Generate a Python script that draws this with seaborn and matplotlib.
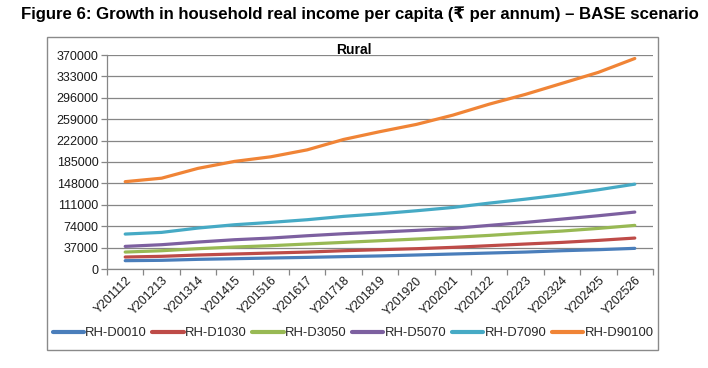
import matplotlib
matplotlib.use("Agg")
import matplotlib.pyplot as plt
import seaborn as sns
import pandas as pd
import numpy as np
from matplotlib.patches import Rectangle
from matplotlib.ticker import FixedLocator

sns.set_theme(style="white")
plt.rcParams['font.family'] = ['Liberation Sans', 'DejaVu Sans']

years = ["Y201112", "Y201213", "Y201314", "Y201415", "Y201516", "Y201617", "Y201718",
         "Y201819", "Y201920", "Y202021", "Y202122", "Y202223", "Y202324", "Y202425", "Y202526"]

rh_d0010 = [14400, 15000, 16700, 17800, 19000, 20100, 21400, 22600, 24200, 25900, 27600, 29300, 31600, 33400, 35700]
rh_d1030 = [20700, 21900, 24200, 25900, 27600, 29300, 31600, 33400, 35100, 37400, 40300, 43200, 46000, 49500, 53500]
rh_d3050 = [29300, 31600, 35100, 38000, 40300, 43200, 46000, 48900, 51800, 54700, 58100, 62100, 65600, 70200, 75400]
rh_d5070 = [39100, 42000, 46600, 50600, 53500, 57500, 61000, 63800, 66800, 70200, 75400, 80600, 86300, 92100, 98400]
rh_d7090 = [60400, 63300, 70800, 76500, 80600, 85200, 91000, 95500, 100700, 106400, 113900, 120800, 128300, 137000, 146700]
rh_d90100 = [151000, 157000, 174000, 186000, 194000, 206000, 224000, 237500, 250000, 266000, 285000, 302000, 321000, 340000, 364000]

series_names = ["RH-D0010", "RH-D1030", "RH-D3050", "RH-D5070", "RH-D7090", "RH-D90100"]
series_values = [rh_d0010, rh_d1030, rh_d3050, rh_d5070, rh_d7090, rh_d90100]
colors = ["#4A7EBB", "#BE4B48", "#98B954", "#7D60A0", "#46AAC5", "#F08436"]

yticks = [0, 37000, 74000, 111000, 148000, 185000, 222000, 259000, 296000, 333000, 370000]

rows = []
for name, vals in zip(series_names, series_values):
    for i, v in enumerate(vals):
        rows.append({"idx": i, "year": years[i], "series": name, "value": v})
df = pd.DataFrame(rows)

W, H = 708, 368
fig = plt.figure(figsize=(W / 100, H / 100), dpi=100)
ax = fig.add_axes([107 / W, 1 - 269 / H, (653 - 107) / W, (269 - 55) / H])

sns.lineplot(data=df, x="idx", y="value", hue="series", palette=colors,
             linewidth=2.3, ax=ax, legend=False, solid_capstyle="round")

grid_c = "#868686"
ax.set_xlim(-0.5, len(years) - 0.5)
ax.set_ylim(0, 370000)
ax.set_yticks(yticks)
ax.set_yticklabels([str(t) for t in yticks], fontsize=9, color="#1a1a1a")
ax.yaxis.grid(True, color=grid_c, linewidth=0.9)
ax.set_axisbelow(True)

ax.xaxis.set_major_locator(FixedLocator(np.arange(-0.5, len(years), 1.0)))
ax.set_xticklabels([])
ax.xaxis.set_minor_locator(FixedLocator(np.arange(len(years))))
ax.set_xticklabels(years, minor=True, rotation=45, ha="right", rotation_mode="anchor",
                   fontsize=8.8, color="#1a1a1a")
ax.tick_params(axis="x", which="major", direction="out", length=4, width=0.9, color=grid_c, bottom=True)
ax.tick_params(axis="x", which="minor", length=0, pad=4, bottom=True)
ax.tick_params(axis="y", direction="out", length=4, width=0.9, color=grid_c, left=True, pad=2)

for s in ["top", "right"]:
    ax.spines[s].set_visible(False)
for s in ["left", "bottom"]:
    ax.spines[s].set_color(grid_c)
    ax.spines[s].set_linewidth(0.9)
ax.set_xlabel("")
ax.set_ylabel("")

fig.text(354 / W, 1 - 50 / H, "Rural", ha="center", va="center", fontsize=10, fontweight="bold", color="#000000")

fig.text(360 / W, 1 - 14 / H,
         "Figure 6: Growth in household real income per capita (₹ per annum) – BASE scenario",
         ha="center", va="center", fontsize=12.1, fontweight="bold", color="#000000",
         family=["Liberation Sans", "DejaVu Sans"])

frame = Rectangle((47 / W, 1 - 350 / H), (658 - 47) / W, (350 - 37) / H,
                  transform=fig.transFigure, fill=False, edgecolor="#8a8a8a", linewidth=1.0)
fig.add_artist(frame)

handles = [plt.Line2D([], [], color=c, linewidth=3, solid_capstyle="round") for c in colors]
fig.legend(handles, series_names, loc="center", bbox_to_anchor=(353 / W, 1 - 333 / H), ncol=6,
           frameon=False, fontsize=9.4, handlelength=2.4, handletextpad=0.1, columnspacing=0.42,
           borderaxespad=0, borderpad=0)

fig.savefig("out.png", dpi=100, facecolor="white")
